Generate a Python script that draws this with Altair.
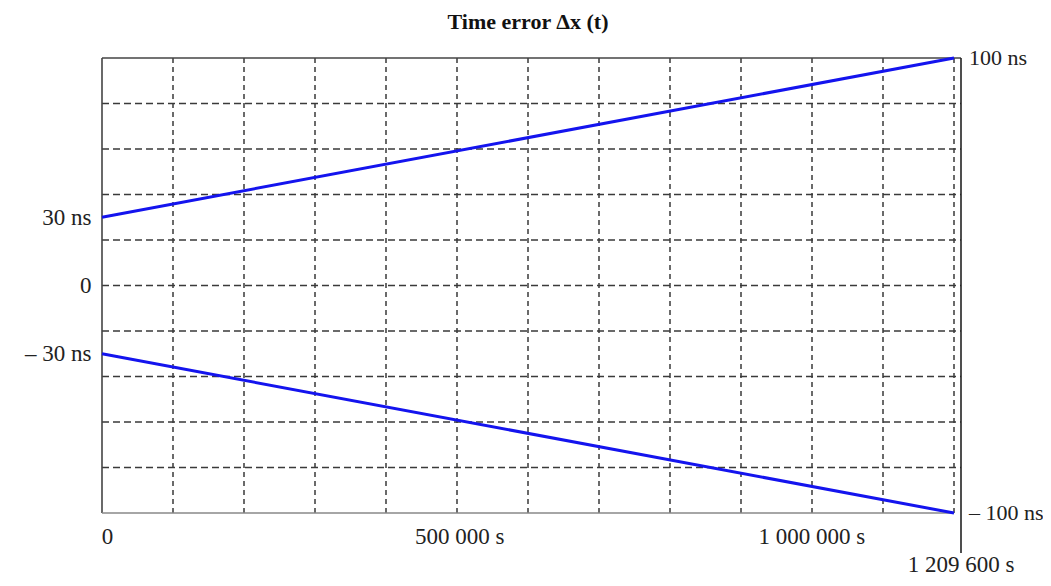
import altair as alt
import pandas as pd

# ---- data ----
t_max = 1209600
line_t = [0, 1209600]
upper_vals = [30, 100]
lower_vals = [-30, -100]

grid_x = [100800, 201600, 302400, 403200, 504000, 604800,
          705600, 806400, 907200, 1008000, 1108800, 1209600]
grid_y = [-80, -60, -40, -20, 0, 20, 40, 60, 80]

left_ticks = [30, 0, -30]
left_texts = ["30 ns", "0", "– 30 ns"]
right_ticks = [100, -100]
right_texts = ["100 ns", "– 100 ns"]
bottom_ticks = [0, 500000, 1000000]
bottom_texts = ["0", "500 000 s", "1 000 000 s"]
end_tick = [1209600]
end_text = ["1 209 600 s"]

W, H = 852, 455
FONT = "Liberation Serif"
FS = 23

xs = alt.Scale(domain=[0, t_max], nice=False, zero=False)
ys = alt.Scale(domain=[-100, 100], nice=False, zero=False)

lines_df = pd.DataFrame({
    "t": line_t + line_t,
    "v": upper_vals + lower_vals,
    "s": ["upper"] * 2 + ["lower"] * 2,
})

left_map = "{" + ",".join(f"'{v}':'{t}'" for v, t in zip(left_ticks, left_texts)) + "}"
bottom_map = "{" + ",".join(f"'{v}':'{t}'" for v, t in zip(bottom_ticks, bottom_texts)) + "}"

# horizontal dashed grid
hgrid = alt.Chart(pd.DataFrame({"v": grid_y})).mark_rule(
    color="#3a3a3a", strokeWidth=1.5, strokeDash=[7, 4]
).encode(
    y=alt.Y("v:Q", scale=ys, axis=alt.Axis(
        values=left_ticks, labelExpr=f"{left_map}[datum.value]",
        domain=False, ticks=False, grid=False, title=None,
        labelFont=FONT, labelFontSize=FS, labelColor="#222",
        labelPadding=11, labelBaseline="middle")),
    x=alt.value(0), x2=alt.value(W + 7),
)

# vertical dashed grid
vgrid = alt.Chart(pd.DataFrame({"t": grid_x})).mark_rule(
    color="#3a3a3a", strokeWidth=1.5, strokeDash=[5, 4]
).encode(
    x=alt.X("t:Q", scale=xs, axis=alt.Axis(
        values=bottom_ticks, labelExpr=f"{bottom_map}[datum.value]",
        domain=False, ticks=False, grid=False, title=None,
        labelFont=FONT, labelFontSize=FS, labelColor="#222",
        labelPadding=12, labelBaseline="top", labelAlign="center",
        labelFlush=False, labelOverlap=False, labelOffset=5)),
    y=alt.value(0), y2=alt.value(H),
)

# frame
frame_df = pd.DataFrame({"k": [0]})
left_border = alt.Chart(frame_df).mark_rule(color="#444", strokeWidth=1.6).encode(
    x=alt.value(0), y=alt.value(0), y2=alt.value(H))
top_border = alt.Chart(frame_df).mark_rule(color="#444", strokeWidth=1.6).encode(
    x=alt.value(0), x2=alt.value(W + 7), y=alt.value(0))
bottom_border = alt.Chart(frame_df).mark_rule(color="#888", strokeWidth=1.6).encode(
    x=alt.value(0), x2=alt.value(W), y=alt.value(H))
right_axis = alt.Chart(frame_df).mark_rule(color="#222", strokeWidth=1.6).encode(
    x=alt.value(W + 7), y=alt.value(0), y2=alt.value(H + 40))

lines = alt.Chart(lines_df).mark_line(color="#1414ee", strokeWidth=3).encode(
    x=alt.X("t:Q", scale=xs),
    y=alt.Y("v:Q", scale=ys),
    detail="s:N",
)

right_labels = alt.Chart(pd.DataFrame({"v": right_ticks, "txt": right_texts})).mark_text(
    font=FONT, fontSize=22, color="#222", align="left", baseline="middle", dx=15
).encode(
    x=alt.value(W), y=alt.Y("v:Q", scale=ys), text="txt:N")

end_label = alt.Chart(pd.DataFrame({"t": end_tick, "txt": end_text})).mark_text(
    font=FONT, fontSize=FS, color="#222", align="center", baseline="middle", dx=7
).encode(
    x=alt.X("t:Q", scale=xs), y=alt.value(H + 52), text="txt:N")

chart = alt.layer(
    hgrid, vgrid, left_border, top_border, bottom_border, right_axis,
    lines, right_labels, end_label
).properties(
    width=W, height=H,
    title=alt.TitleParams("Time error Δx (t)", font=FONT, fontSize=22,
                          fontWeight="bold", color="#111", anchor="middle", offset=13),
    autosize=alt.AutoSizeParams(type="none"),
    padding={"left": 94, "top": 50, "right": 89, "bottom": 65},
).configure_view(stroke=None)

chart.save("out.html", embed_options={"renderer": "svg", "actions": False})
